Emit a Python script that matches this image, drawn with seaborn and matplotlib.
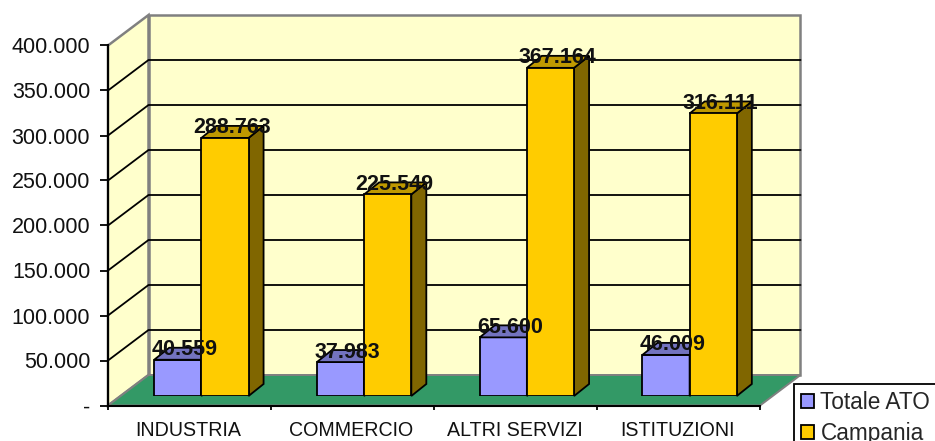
"""
Addetti per settore: Totale ATO vs Campania (finto 3D stile Excel)
"""

import pandas as pd
import matplotlib.pyplot as plt
from matplotlib.patches import Polygon
from matplotlib.transforms import Affine2D
import seaborn as sns

# Data
settori = ['INDUSTRIA', 'COMMERCIO', 'ALTRI SERVIZI', 'ISTITUZIONI']
totale_ato = [40559, 37983, 65600, 46009]
campania = [288763, 225549, 367164, 316111]
y_ticks = [0, 50000, 100000, 150000, 200000, 250000, 300000, 350000, 400000]

W, H = 935, 441
sns.set_style('white')
plt.rcParams['font.family'] = ['Liberation Sans', 'DejaVu Sans']

df = pd.DataFrame({
    'settore': settori * 2,
    'addetti': totale_ato + campania,
    'serie': ['Totale ATO'] * 4 + ['Campania'] * 4,
})


def it_num(v):
    return '-' if v == 0 else f'{v:,}'.replace(',', '.')


def rect_px(left, top, right, bottom):
    # pixel box (origin top-left) -> figure fraction
    return [left / W, 1 - bottom / H, (right - left) / W, (bottom - top) / H]


fig = plt.figure(figsize=(W / 100, H / 100), dpi=100, facecolor='white')

# Front plane of the chart carries the axes
ax = fig.add_axes(rect_px(108, 45.5, 760, 405.5), facecolor='none')
# Bars stand a little way into the floor
bar_ax = fig.add_axes(rect_px(120, 38.5, 771, 396), facecolor='none')

sns.barplot(data=df, x='settore', y='addetti', hue='serie', ax=bar_ax,
            palette={'Totale ATO': '#9999FF', 'Campania': '#FFCC00'},
            width=0.58, gap=0, edgecolor='black', linewidth=1.3,
            saturation=1, legend=False)
bar_ax.set_xlim(-0.5, 3.5)
bar_ax.set_ylim(0, 400000)
bar_ax.axis('off')

ax.set_xlim(-0.5, 3.5)
ax.set_ylim(0, 400000)
ax.set_yticks(y_ticks)
ax.set_yticklabels([it_num(v) for v in y_ticks], fontsize=15.5, color='#111111')
ax.set_xticks(range(4))
ax.set_xticklabels(settori, fontsize=14.1, color='#111111')
ax.set_xticks([-0.5, 0.5, 1.5, 2.5, 3.5], minor=True)
ax.tick_params(axis='y', which='major', left=True, length=5.8, width=1.3, pad=7, color='black')
ax.tick_params(axis='x', which='major', bottom=False, length=0, pad=11.5)
ax.tick_params(axis='x', which='minor', bottom=True, length=3, width=1.3, color='black')
for side in ['top', 'right']:
    ax.spines[side].set_visible(False)
for side in ['left', 'bottom']:
    ax.spines[side].set_color('black')
    ax.spines[side].set_linewidth(1.5)

# Category labels sit slightly left of the tick centre
for lab in ax.get_xticklabels():
    lab.set_transform(lab.get_transform() + Affine2D().translate(-1, 0))

# Walls and floor, pushed back from the front plane
DX, DY = 40.5, 30.5
back = ax.transData + Affine2D().translate(DX, DY)
x0, x1 = ax.get_xlim()
y0, y1 = ax.get_ylim()


def front_pt(x, y):
    return tuple(ax.transData.transform((x, y)))


def back_pt(x, y):
    return tuple(back.transform((x, y)))


wall_style = dict(transform=Affine2D(), clip_on=False, joinstyle='miter')
ax.add_patch(Polygon([front_pt(x0, y0), front_pt(x0, y1), back_pt(x0, y1), back_pt(x0, y0)],
                     facecolor='#FFFFCC', edgecolor='#808080', linewidth=1.8, zorder=0.5, **wall_style))
ax.add_patch(Polygon([back_pt(x0, y0), back_pt(x0, y1), back_pt(x1, y1), back_pt(x1, y0)],
                     facecolor='#FFFFCC', edgecolor='#808080', linewidth=1.8, zorder=0.6, **wall_style))
ax.add_patch(Polygon([front_pt(x0, y0), front_pt(x1, y0), back_pt(x1, y0), back_pt(x0, y0)],
                     facecolor='#339966', edgecolor='#808080', linewidth=1.4, zorder=0.7, **wall_style))

# Gridlines run along the left wall and the back wall
for v in y_ticks[1:-1]:
    a, b, c = front_pt(x0, v), back_pt(x0, v), back_pt(x1, v)
    ax.plot([a[0], b[0], c[0]], [a[1], b[1], c[1]], color='black', linewidth=1.3,
            transform=Affine2D(), clip_on=False, zorder=0.8)

# Bar depth: side and top faces from each drawn bar
DEPTH_X, DEPTH_Y = 15, 12
shades = {0: ('#4D4D80', '#7373BF'), 1: ('#806600', '#BF9900')}
for i, cont in enumerate(bar_ax.containers):
    side_col, top_col = shades[i]
    for patch, val in zip(cont.patches, cont.datavalues):
        bx, bw = patch.get_x(), patch.get_width()
        (l, b) = bar_ax.transData.transform((bx, 0))
        (r, t) = bar_ax.transData.transform((bx + bw, val))
        side = Polygon([(r, b), (r, t), (r + DEPTH_X, t + DEPTH_Y), (r + DEPTH_X, b + DEPTH_Y)],
                       facecolor=side_col, edgecolor='black', linewidth=1.3,
                       transform=Affine2D(), clip_on=False, zorder=1.5)
        top = Polygon([(l, t), (r, t), (r + DEPTH_X, t + DEPTH_Y), (l + DEPTH_X, t + DEPTH_Y)],
                      facecolor=top_col, edgecolor='black', linewidth=1.3,
                      transform=Affine2D(), clip_on=False, zorder=1.5)
        bar_ax.add_patch(side)
        bar_ax.add_patch(top)

# Campania front faces have to sit over the blue side faces
for patch in bar_ax.containers[1].patches:
    patch.set_zorder(2)
for patch in bar_ax.containers[0].patches:
    patch.set_zorder(1)

# Value labels
for cont in bar_ax.containers:
    for patch, val in zip(cont.patches, cont.datavalues):
        bar_ax.annotate(it_num(int(val)), (patch.get_x() + patch.get_width() / 2, val),
                        xytext=(5, 7.2), textcoords='offset points', ha='center', va='center',
                        fontsize=15.5, fontweight='bold', color='#111111',
                        annotation_clip=False, zorder=5)

# Legend box runs off the bottom and right of the picture
handles = [c.patches[0] for c in bar_ax.containers]
leg = fig.legend(handles, ['Totale ATO', 'Campania'], loc='upper left',
                 bbox_to_anchor=(794 / W, 1 - 384 / H), borderaxespad=0,
                 fontsize=16.3, frameon=True, fancybox=False, framealpha=1,
                 edgecolor='black', handlelength=0.6, handleheight=0.6,
                 handletextpad=0.27, labelspacing=0.36, borderpad=0.3)
leg.get_frame().set_linewidth(1.3)

plt.savefig('out.png', dpi=100)
plt.close()
